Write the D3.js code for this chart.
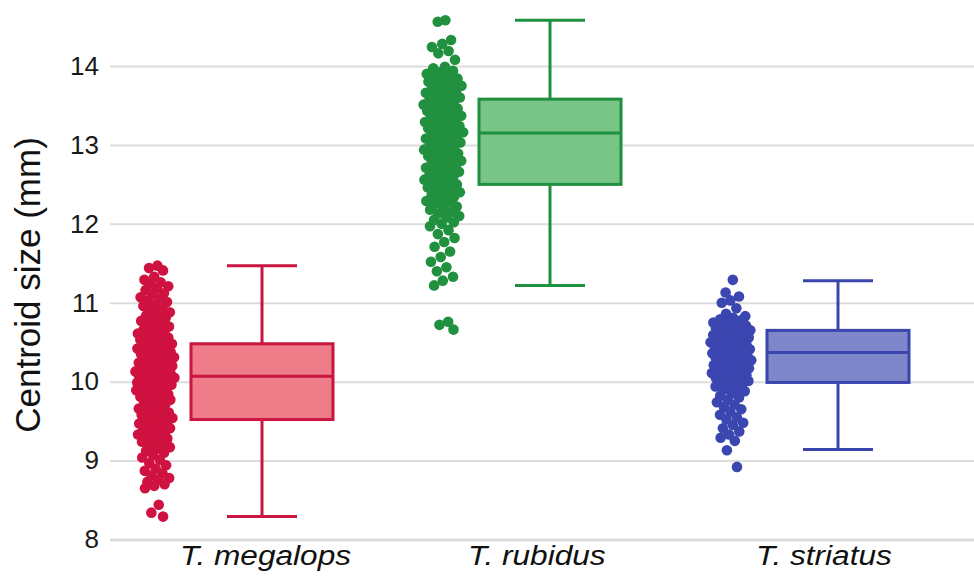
<!DOCTYPE html>
<html>
<head>
<meta charset="utf-8">
<script src="https://cdn.jsdelivr.net/npm/d3@7"></script>
<style>
  html, body { margin: 0; padding: 0; background: #fff; }
  svg { display: block; font-family: "Liberation Sans", Arial, sans-serif; }
</style>
</head>
<body>
<div id="chart"></div>
<script>
// species on the x axis
const species = ["T. megalops", "T. rubidus", "T. striatus"];

// box statistics: lower whisker, Q1, median, Q3, upper whisker
const whiskerLow  = [8.29, 11.22, 9.14];
const q1          = [9.52, 12.50, 9.99];
const median      = [10.07, 13.15, 10.37];
const q3          = [10.48, 13.58, 10.65];
const whiskerHigh = [11.47, 14.58, 11.28];

// individual specimens (estimated from the strip plots)
const megalopsPts = [
  11.47, 11.44, 11.41, 11.33, 11.29, 11.26, 11.24, 11.21, 11.18, 11.16, 11.12, 11.11, 11.07, 11.05, 11.03, 11.01,
  10.98, 10.96, 10.93, 10.91, 10.88, 10.86, 10.84, 10.81, 10.79, 10.77, 10.74, 10.72, 10.70, 10.68, 10.66, 10.64,
  10.62, 10.61, 10.58, 10.57, 10.56, 10.54, 10.53, 10.51, 10.50, 10.48, 10.47, 10.46, 10.44, 10.43, 10.42, 10.40,
  10.39, 10.38, 10.36, 10.35, 10.33, 10.32, 10.31, 10.29, 10.28, 10.27, 10.25, 10.24, 10.23, 10.21, 10.20, 10.19,
  10.17, 10.16, 10.15, 10.13, 10.12, 10.11, 10.10, 10.09, 10.08, 10.07, 10.06, 10.05, 10.04, 10.03, 10.02, 10.01,
  9.99, 9.98, 9.97, 9.96, 9.95, 9.93, 9.92, 9.90, 9.89, 9.87, 9.86, 9.84, 9.83, 9.81, 9.80, 9.78, 9.77, 9.75,
  9.74, 9.72, 9.69, 9.66, 9.64, 9.62, 9.61, 9.59, 9.58, 9.57, 9.55, 9.54, 9.53, 9.51, 9.50,
  9.48, 9.47, 9.45, 9.43, 9.41, 9.40, 9.38, 9.36, 9.35, 9.33, 9.31, 9.29, 9.28, 9.26, 9.24, 9.22, 9.19, 9.17,
  9.15, 9.12, 9.10, 9.07, 9.04, 9.01, 8.97, 8.94, 8.90, 8.87, 8.84, 8.81, 8.78, 8.76, 8.73, 8.70, 8.68, 8.65,
  8.44, 8.34, 8.29
];
const rubidusPts = [
  14.58, 14.56, 14.33, 14.28, 14.24, 14.19, 14.16, 14.08,
  13.99, 13.97, 13.94, 13.92, 13.90, 13.88, 13.85, 13.84, 13.82, 13.80, 13.78, 13.77, 13.75, 13.73, 13.71, 13.69,
  13.67, 13.66, 13.64, 13.62, 13.60, 13.58, 13.57, 13.55, 13.53, 13.51, 13.50, 13.48, 13.46, 13.44, 13.43, 13.41,
  13.39, 13.37, 13.36, 13.34, 13.32, 13.31, 13.29, 13.27, 13.26, 13.24, 13.22, 13.21, 13.19, 13.17, 13.16, 13.15,
  13.13, 13.11, 13.10, 13.08, 13.06, 13.05, 13.03, 13.01, 13.00, 12.98, 12.96, 12.94, 12.93, 12.91, 12.89, 12.87,
  12.86, 12.84, 12.82, 12.80, 12.78, 12.77, 12.75, 12.73, 12.71, 12.69, 12.68, 12.66, 12.64, 12.62, 12.60, 12.58,
  12.56, 12.54, 12.52, 12.50, 12.48, 12.46, 12.44, 12.42, 12.40, 12.38, 12.36, 12.34, 12.31, 12.29, 12.27, 12.25,
  12.22, 12.20, 12.18, 12.15, 12.13, 12.10, 12.08, 12.05, 12.02, 12.00, 11.97,
  11.92, 11.87, 11.82, 11.77, 11.71, 11.65, 11.58, 11.52, 11.45, 11.40, 11.33, 11.28, 11.22,
  10.76, 10.72, 10.66
];
const striatusPts = [
  11.29, 11.13, 11.08, 11.03, 11.00, 10.93,
  10.86, 10.83, 10.81, 10.79, 10.78, 10.76, 10.75, 10.73, 10.72, 10.71, 10.69, 10.68, 10.67, 10.66, 10.65, 10.64,
  10.63, 10.62, 10.61, 10.59, 10.58, 10.57, 10.56, 10.55, 10.54, 10.52, 10.51, 10.50, 10.49, 10.48, 10.47, 10.46,
  10.45, 10.43, 10.42, 10.41, 10.40, 10.39, 10.38, 10.37, 10.36, 10.35, 10.33, 10.32, 10.31, 10.30, 10.29, 10.28,
  10.27, 10.26, 10.24, 10.23, 10.22, 10.21, 10.20, 10.19, 10.17, 10.16, 10.15, 10.14, 10.13, 10.11, 10.10, 10.09,
  10.08, 10.06, 10.05, 10.04, 10.03, 10.01, 10.00, 9.99, 9.98, 9.96, 9.94, 9.92, 9.90, 9.88,
  9.85, 9.82, 9.80, 9.77, 9.74, 9.71, 9.68, 9.65, 9.62, 9.58, 9.55, 9.52,
  9.48, 9.45, 9.41, 9.37, 9.33, 9.29, 9.25, 9.13, 8.92
];
const points = [megalopsPts, rubidusPts, striatusPts];

// y axis ticks
const yTicks = [8, 9, 10, 11, 12, 13, 14];

const dotColor  = ["#cf1240", "#21913f", "#3c46b0"];
const boxFill   = ["#ee7d89", "#78c587", "#7f87cb"];
const boxStroke = ["#c9153f", "#1f903e", "#3b45ae"];

const WIDTH = 974, HEIGHT = 577;

const svg = d3.select("#chart")
              .append("svg")
                .attr("width", WIDTH)
                .attr("height", HEIGHT);

const y = d3.scaleLinear()
            .domain([8, 14])
            .range([539.5, 66]);

const x = d3.scaleBand()
            .domain(species)
            .range([118, 982]);

// gridlines + tick labels
const yAxis = svg.append("g")
   .attr("transform", "translate(110,0)")
   .call(d3.axisLeft(y)
           .tickValues(yTicks)
           .tickFormat(d3.format("d"))
           .tickSize(-(WIDTH - 110))
           .tickPadding(11));
yAxis.select(".domain").remove();
yAxis.selectAll(".tick line")
     .attr("stroke", "#dcdcdc")
     .attr("stroke-width", d => d === 8 ? 3 : 2);
yAxis.selectAll(".tick text")
     .attr("fill", "#1a1a1a")
     .style("font-size", "26px")
     .style("font-family", "'Liberation Sans', Arial, sans-serif");

// y axis title
svg.append("text")
   .attr("transform", "translate(40,285) rotate(-90)")
   .attr("text-anchor", "middle")
   .attr("fill", "#111")
   .style("font-size", "35px")
   .text("Centroid size (mm)");

// category labels
species.forEach(s => {
    svg.append("text")
       .attr("transform", `translate(${x(s) + x.bandwidth() / 2 - 82},565) scale(1.15,1)`)
       .attr("fill", "#111")
       .style("font-size", "27.5px")
       .style("font-style", "italic")
       .text(s);
});

// strips of jittered points, wider where the points are dense
const golden = 0.6180339887;
points.forEach((vals, gi) => {
    const cx = x(species[gi]) + x.bandwidth() / 2 - 107;
    const dens = vals.map(v => vals.filter(w => Math.abs(w - v) <= 0.12).length);
    const dmax = d3.max(dens);
    svg.append("g")
       .selectAll("circle")
       .data(vals)
       .join("circle")
         .attr("cx", (d, i) => {
             const half = 4 + 17 * Math.sqrt(dens[i] / dmax);
             const f = ((i + 1) * golden) % 1;
             return cx + (f - 0.5) * 2 * half;
         })
         .attr("cy", d => y(d))
         .attr("r", 5.3)
         .attr("fill", dotColor[gi]);
});

// box plots
species.forEach((s, i) => {
    const c = x(s) + x.bandwidth() / 2;
    const g = svg.append("g")
                 .attr("stroke", boxStroke[i])
                 .attr("stroke-width", 3);
    g.append("line")
     .attr("x1", c).attr("x2", c)
     .attr("y1", y(whiskerHigh[i])).attr("y2", y(q3[i]));
    g.append("line")
     .attr("x1", c).attr("x2", c)
     .attr("y1", y(q1[i])).attr("y2", y(whiskerLow[i]));
    [whiskerHigh[i], whiskerLow[i]].forEach(v => {
        g.append("line")
         .attr("x1", c - 35).attr("x2", c + 35)
         .attr("y1", y(v)).attr("y2", y(v));
    });
    g.append("rect")
     .attr("x", c - 71)
     .attr("y", y(q3[i]))
     .attr("width", 142)
     .attr("height", y(q1[i]) - y(q3[i]))
     .attr("fill", boxFill[i]);
    g.append("line")
     .attr("x1", c - 71).attr("x2", c + 71)
     .attr("y1", y(median[i])).attr("y2", y(median[i]));
});
</script>
</body>
</html>
